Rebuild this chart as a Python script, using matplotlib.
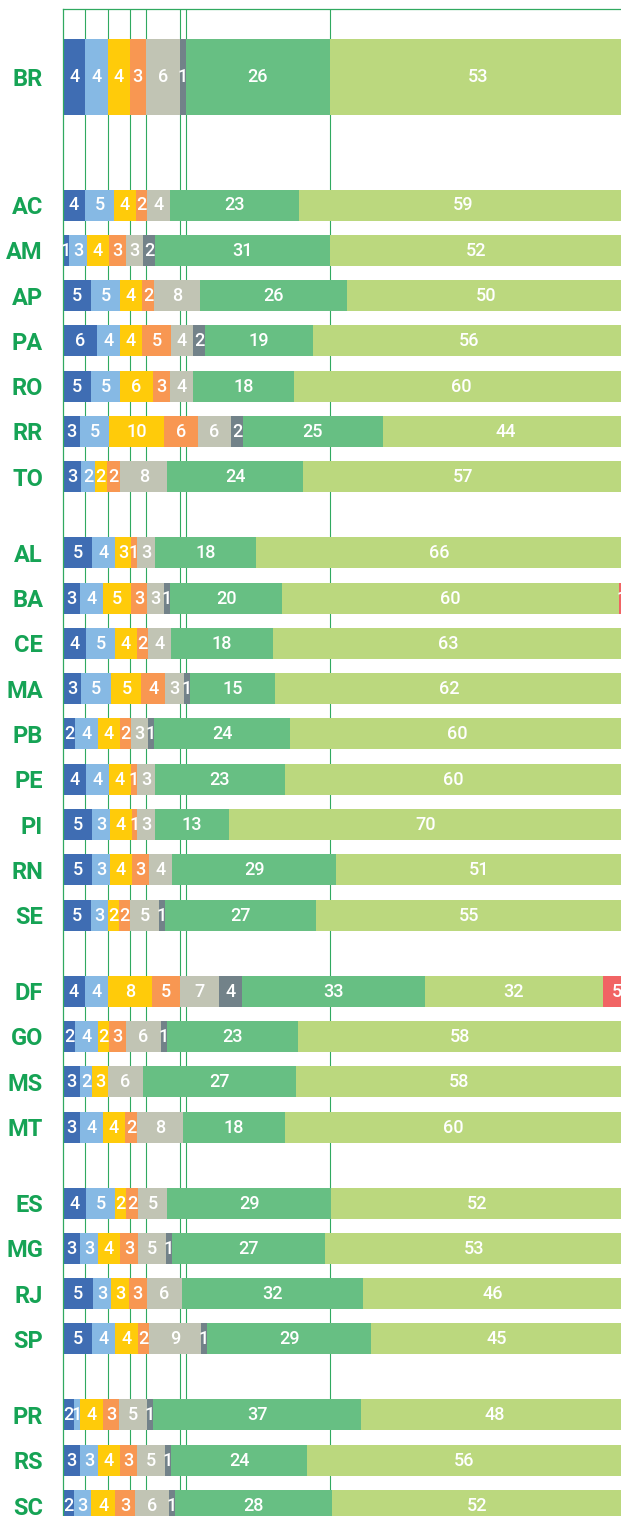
import matplotlib
matplotlib.use("Agg")
import matplotlib.pyplot as plt
import numpy as np

# ---------------- data ----------------
states = ["BR",
          "AC", "AM", "AP", "PA", "RO", "RR", "TO",
          "AL", "BA", "CE", "MA", "PB", "PE", "PI", "RN", "SE",
          "DF", "GO", "MS", "MT",
          "ES", "MG", "RJ", "SP",
          "PR", "RS", "SC"]
group_sizes = [1, 7, 9, 4, 4, 3]

s1 = [4.0, 3.95, 1.08, 5.03, 6.11, 5.03, 3.05, 3.3,
      5.21, 3.05, 4.13, 3.3, 2.16, 4.13, 5.21, 5.21, 5.03,
      3.95, 2.16, 3.05, 3.05,
      4.13, 3.05, 5.3, 5.21,
      1.98, 3.05, 1.98]
s2 = [4.03, 5.21, 3.23, 5.21, 4.13, 5.21, 5.21, 2.4,
      4.13, 4.14, 5.21, 5.4, 4.13, 4.13, 3.23, 3.23, 3.05,
      4.13, 4.13, 2.16, 4.14,
      5.21, 3.24, 3.4, 4.13,
      1.07, 3.24, 3.05]
s3 = [3.95, 3.95, 3.95, 3.95, 3.95, 5.93, 9.88, 2.2,
      2.87, 5.02, 3.95, 5.4, 3.95, 3.95, 3.95, 3.95, 1.98,
      7.9, 1.97, 2.87, 3.95,
      1.98, 3.95, 3.1, 4.13,
      4.14, 3.95, 4.4]
s4 = [2.92, 1.98, 3.06, 2.16, 5.21, 3.05, 6.11, 2.4,
      1.08, 2.88, 1.98, 4.2, 1.97, 1.08, 0.9, 3.06, 1.98,
      5.03, 3.06, 0, 2.15,
      2.15, 3.23, 3.2, 1.98,
      2.87, 3.05, 3.49]
s5 = [6.1, 4.13, 3.05, 8.26, 3.95, 4.13, 5.93, 8.4,
      3.24, 3.05, 4.13, 3.4, 3.06, 3.24, 3.24, 4.13, 5.2,
      7.0, 6.28, 6.29, 8.27,
      5.21, 5.03, 6.4, 9.34,
      5.03, 5.03, 6.11]
s6 = [1.04, 0, 2.16, 0, 2.16, 0, 2.15, 0,
      0, 1.08, 0, 1.08, 1.08, 0, 0, 0, 1.08,
      4.13, 1.08, 0, 0,
      0, 1.08, 0, 1.08,
      1.08, 1.08, 1.08]
s7 = [25.93, 23.17, 31.49, 26.39, 19.39, 18.15, 25.15, 24.49,
      18.14, 20.16, 18.32, 15.3, 24.43, 23.3, 13.29, 29.49, 27.13,
      32.88, 23.49, 27.48, 18.3,
      29.49, 27.49, 32.49, 29.49,
      37.36, 24.43, 28.2]
s8 = [53, 59, 52.4, 50, 56, 60, 44, 57.49,
      66, 60.49, 63, 62.49, 60, 60.49, 70.49, 51.49, 55,
      31.97, 58.3, 58.45, 60.49,
      52.3, 53.4, 46.49, 45,
      48, 56.49, 52]
s9 = [0, 0, 0, 0, 0, 0, 0, 0,
      0, 1, 0, 0, 0, 0, 0, 0, 0,
      5, 0, 0, 0,
      0, 0, 0, 0,
      0, 0, 0]

series = [s1, s2, s3, s4, s5, s6, s7, s8, s9]
colors = ["#3f6db3", "#86b9e4", "#ffcb0a", "#f89752", "#c1c4b4",
          "#728289", "#67bf83", "#bbd87e", "#f16464"]

# ---------------- layout ----------------
W, H = 621, 1516
fig = plt.figure(figsize=(W / 100, H / 100), dpi=100)
top_px = 9
ax = fig.add_axes([63 / W, 0, (W - 63) / W, (H - top_px) / H])

step = 45.3
group_gap = 76.0
ys = [76.5]
y = 205.0
for size in group_sizes[1:]:
    for _ in range(size):
        ys.append(y)
        y += step
    y += group_gap - step
ys = np.array(ys)
heights = np.array([76] + [31] * (len(states) - 1))

# grid lines at BR cumulative boundaries
grid_color = "#30a960"
br_cum = np.cumsum([s[0] for s in series[:7]])
for xv in br_cum:
    ax.axvline(xv, color=grid_color, lw=0.8, zorder=1)

left = np.zeros(len(states))
for vals, c in zip(series, colors):
    vals = np.array(vals, dtype=float)
    ax.barh(ys, vals, left=left, height=heights, color=c, linewidth=0, zorder=2)
    for yi, l, v in zip(ys, left, vals):
        if v > 0:
            ax.text(l + v / 2, yi + 0.5, f"{int(round(v))}", ha="center", va="center",
                    color="white", fontsize=13, family="Roboto", fontweight="medium",
                    clip_on=True, zorder=3)
    left = left + vals

ax.set_xlim(0, (W - 63) / 5.567)
ax.set_ylim(H, top_px)

ax.set_xticks([])
ax.set_yticks(ys)
ax.set_yticklabels(states, fontsize=17, fontweight="bold", family="Roboto",
                   color="#16a355")
ax.tick_params(axis="y", length=0, pad=14.4)

for sp in ["right", "bottom"]:
    ax.spines[sp].set_visible(False)
for sp in ["left", "top"]:
    ax.spines[sp].set_color(grid_color)
    ax.spines[sp].set_linewidth(0.9)

fig.savefig("out.png", dpi=100)
